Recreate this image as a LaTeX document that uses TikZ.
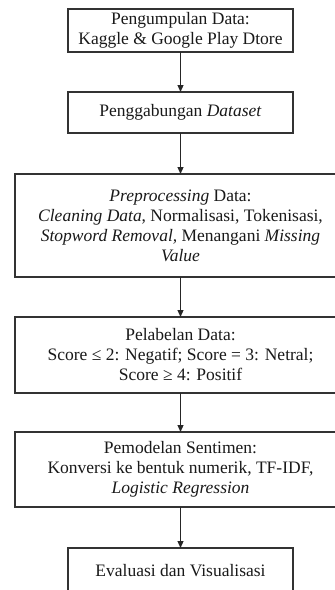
\documentclass[tikz,border=0pt]{standalone}
\usepackage{fontspec}
\setmainfont{Liberation Serif}
\usetikzlibrary{arrows.meta}
\begin{document}
\begin{tikzpicture}[x=1pt,y=-1pt,
  box/.style={draw=black!80, line width=1.1pt, rectangle, inner sep=0pt, outer sep=0pt,
    align=center, font=\fontsize{17.5}{20}\selectfont, text=black!90},
  narrow/.style={box, minimum width=225pt},
  wide/.style={box, minimum width=331pt},
  flow/.style={draw=black!85, line width=1.1pt, -{Triangle[length=7pt,width=6pt]}}]
\useasboundingbox (0,0) rectangle (335,590);
\node[narrow, minimum height=43pt] (b1) at (180.5,30.5) {Pengumpulan Data:\\Kaggle \& Google Play Dtore};
\node[narrow, minimum height=41pt] (b2) at (180.5,112.5) {Penggabungan \textit{Dataset}};
\node[wide, minimum height=103pt] (b3) at (180.5,225.5) {\textit{Preprocessing} Data:\\\textit{Cleaning Data}, Normalisasi, Tokenisasi,\\\textit{Stopword Removal,} Menangani \textit{Missing}\\\textit{Value}};
\node[wide, minimum height=76pt] (b4) at (180.5,355) {Pelabelan Data:\\Score ≤ 2: Negatif; Score = 3: Netral;\\Score ≥ 4: Positif};
\node[wide, minimum height=75pt] (b5) at (180.5,469.5) {Pemodelan Sentimen:\\Konversi ke bentuk numerik, TF-IDF,\\\textit{Logistic Regression}};
\node[narrow, minimum height=46pt] (b6) at (180.5,571) {Evaluasi dan Visualisasi};
\draw[flow] (b1) -- (b2);
\draw[flow] (b2) -- (b3);
\draw[flow] (b3) -- (b4);
\draw[flow] (b4) -- (b5);
\draw[flow] (b5) -- (b6);
\end{tikzpicture}
\end{document}
